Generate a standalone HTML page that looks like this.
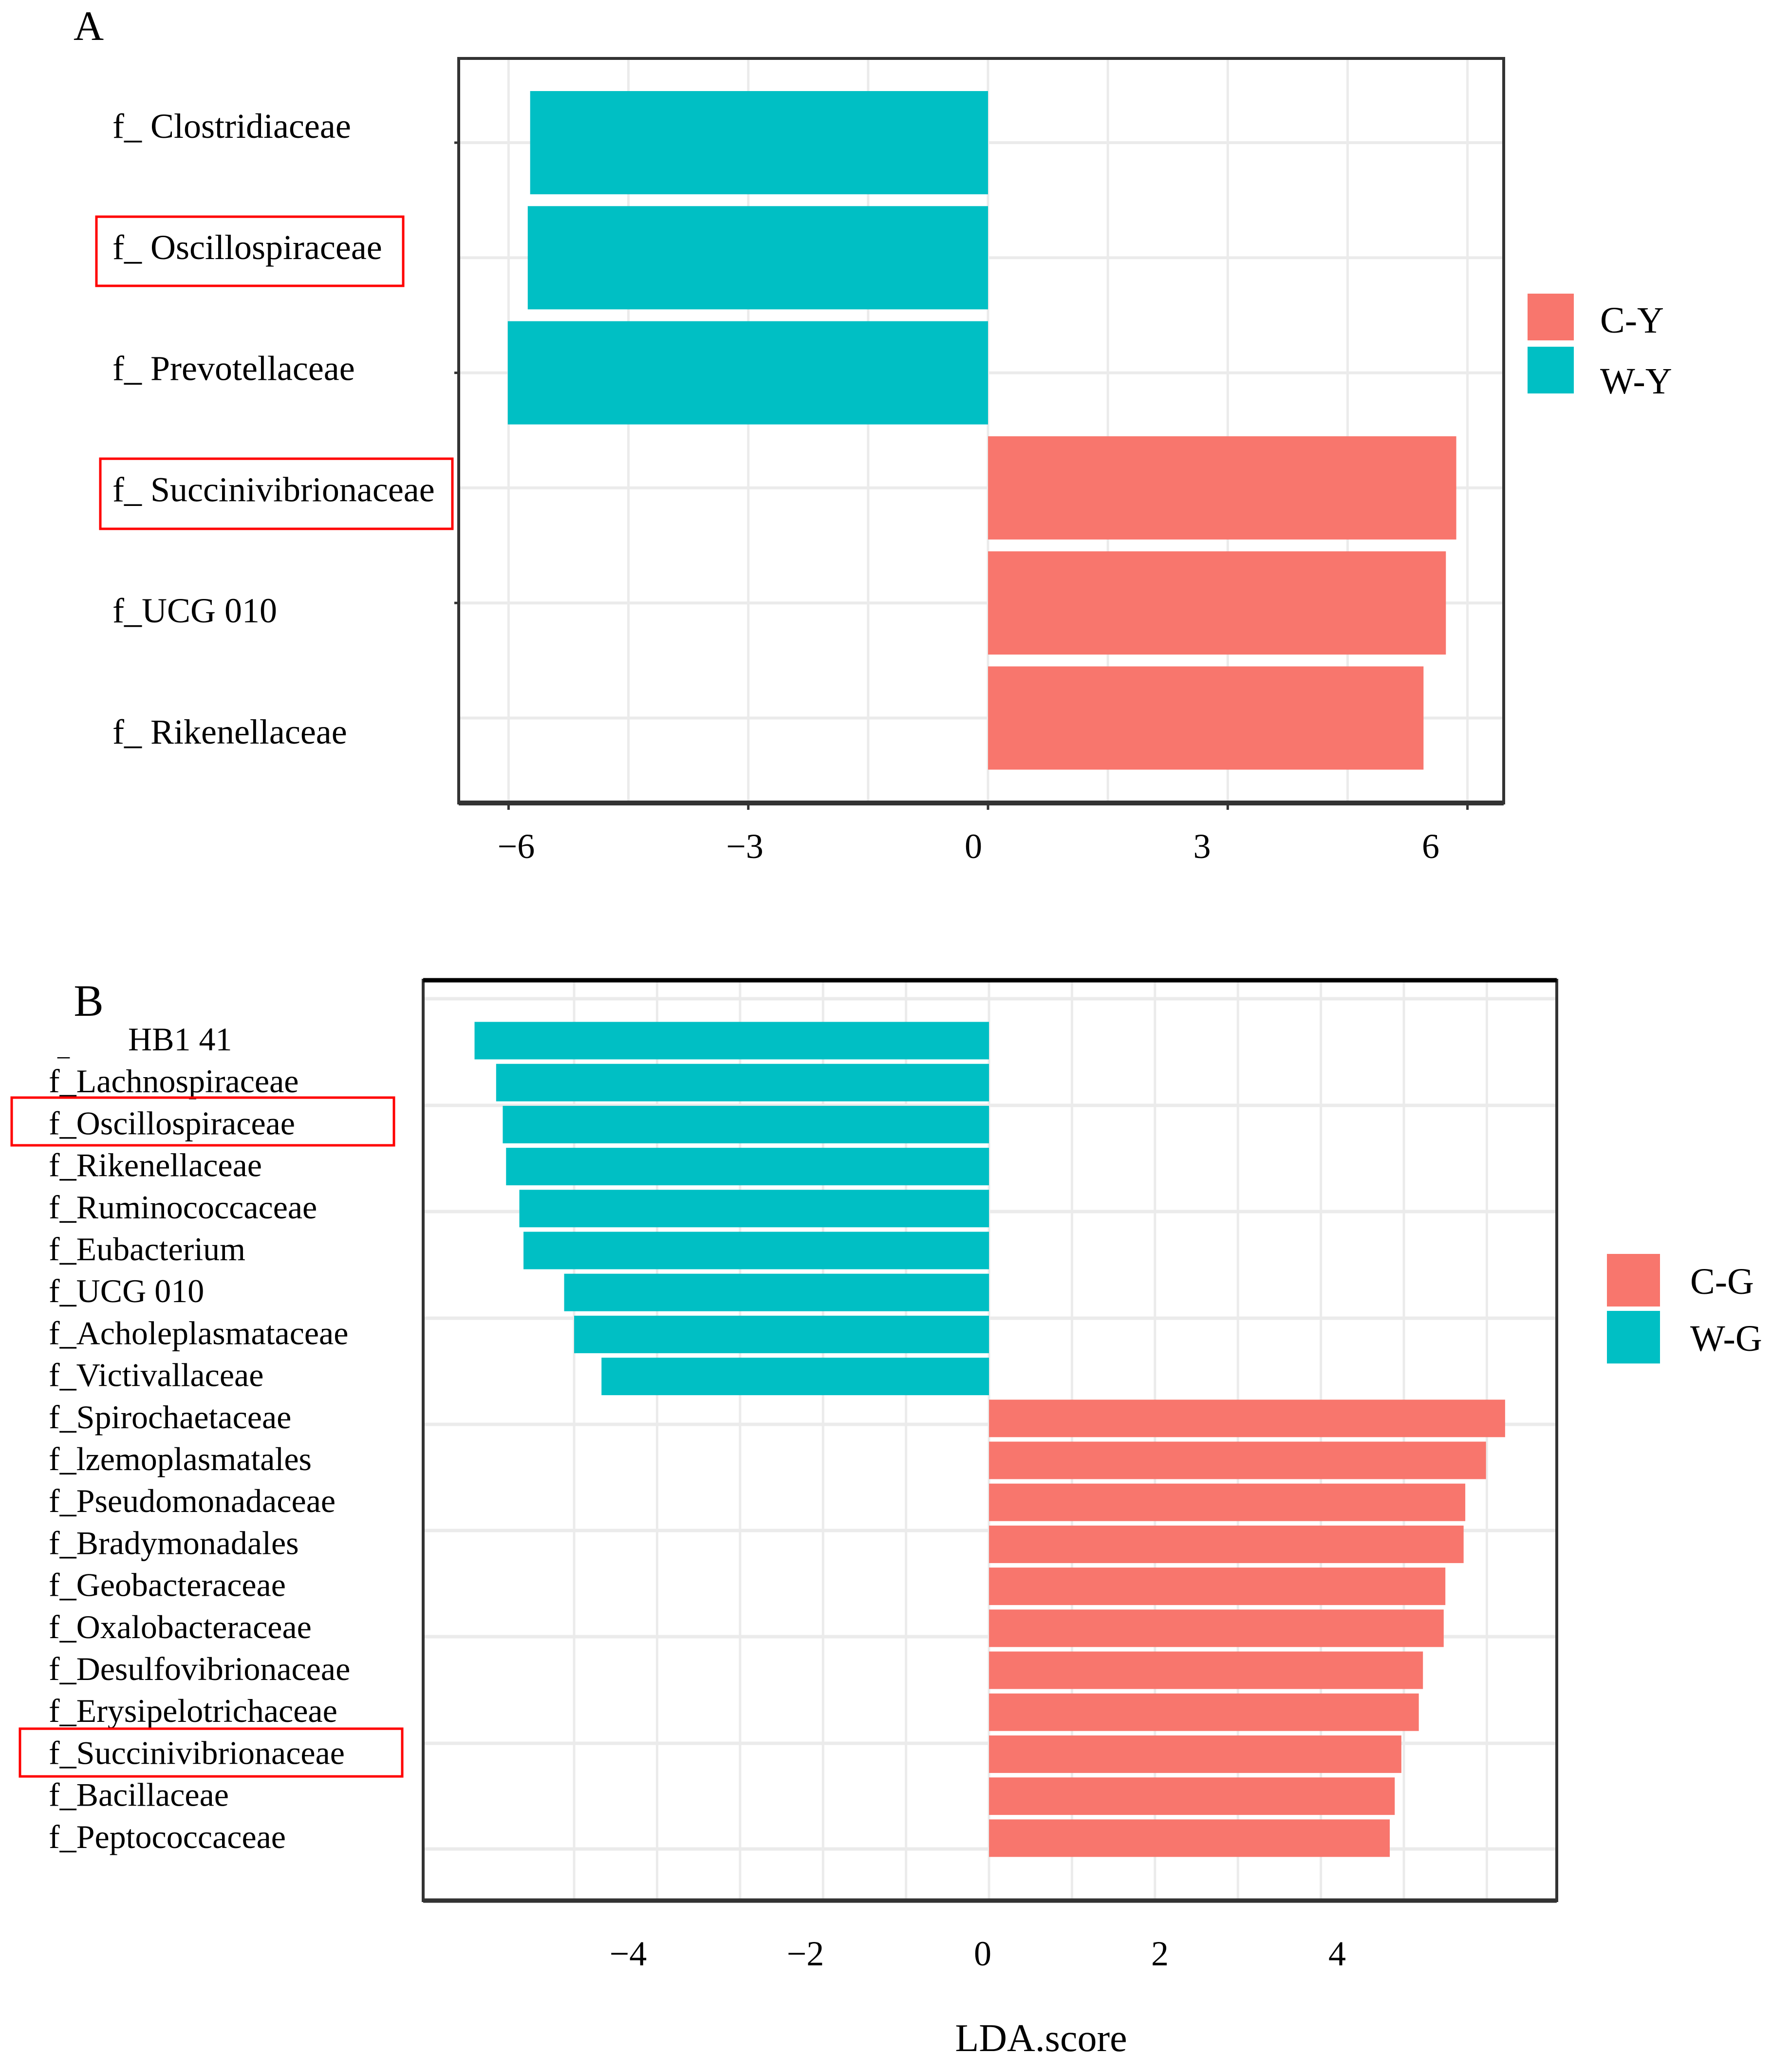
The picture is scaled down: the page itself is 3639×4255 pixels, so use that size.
<!DOCTYPE html>
<html><head><meta charset="utf-8"><style>
html,body{margin:0;padding:0;background:#fff;}
svg{display:block;font-family:"Liberation Serif",serif;}
</style></head><body>
<svg id="chart" width="3639" height="4255" viewBox="0 0 3639 4255" xmlns="http://www.w3.org/2000/svg">
<g id="pa"></g>
<g id="pb"></g>
</svg>
<script>
// Panel A data
const catsA = ["f_ Clostridiaceae","f_ Oscillospiraceae","f_ Prevotellaceae","f_ Succinivibrionaceae","f_UCG 010","f_ Rikenellaceae"];
const valsA = [-5.73,-5.76,-6.01,5.86,5.73,5.45];
const ticksA = [-6,-3,0,3,6];
const gridA = [-6,-4.5,-3,-1.5,0,1.5,3,4.5,6];
const legendA = ["C-Y","W-Y"];
const highlightA = ["f_ Oscillospiraceae","f_ Succinivibrionaceae"];
// Panel B data
const catsB = ["HB1 41","f_Lachnospiraceae","f_Oscillospiraceae","f_Rikenellaceae","f_Ruminococcaceae","f_Eubacterium","f_UCG 010","f_Acholeplasmataceae","f_Victivallaceae","f_Spirochaetaceae","f_lzemoplasmatales","f_Pseudomonadaceae","f_Bradymonadales","f_Geobacteraceae","f_Oxalobacteraceae","f_Desulfovibrionaceae","f_Erysipelotrichaceae","f_Succinivibrionaceae","f_Bacillaceae","f_Peptococcaceae"];
const valsB = [-6.20,-5.94,-5.86,-5.82,-5.66,-5.61,-5.12,-5.00,-4.67,6.22,5.99,5.74,5.72,5.50,5.48,5.23,5.18,4.97,4.89,4.83];
const ticksB = [-4,-2,0,2,4];
const gridB = [-5,-4,-3,-2,-1,0,1,2,3,4,5,6];
const legendB = ["C-G","W-G"];
const highlightB = ["f_Oscillospiraceae","f_Succinivibrionaceae"];

const NS="http://www.w3.org/2000/svg";
const RED="#F8766D", TEAL="#00BFC4";
function mk(parent,tag,attrs,text){const e=document.createElementNS(NS,tag);for(const k in attrs)e.setAttribute(k,attrs[k]);if(text!==undefined)e.textContent=text;parent.appendChild(e);return e;}

// ---------- Panel A ----------
(function(){
  const g=document.getElementById('pa');
  const x0=2029, unit=164.1; const xA=v=>x0+v*unit;
  const labX=v=>1999+v*156.5;
  const y0=293, step=236.3; const yA=i=>y0+i*step;
  const labY=i=>283+i*248.8;
  const L=942,R=3088,T=120,B=1649;
  let t=mk(g,'text',{x:182,y:82,'font-size':86,'text-anchor':'middle'},'A');
  
  
  gridA.forEach(v=>{const l=mk(g,'line',{x1:xA(v),x2:xA(v),y1:T,y2:B,stroke:'#ebebeb','stroke-width':5});
    
    });
  catsA.forEach((c,i)=>{const l=mk(g,'line',{x1:L,x2:R,y1:yA(i),y2:yA(i),stroke:'#ebebeb','stroke-width':6});
    
    });
  catsA.forEach((c,i)=>{
    const v=valsA[i], h=212;
    const r=mk(g,'rect',{x:Math.min(xA(0),xA(v)),y:yA(i)-h/2,width:Math.abs(xA(v)-xA(0)),height:h,fill:v<0?TEAL:RED});
    
    
    const tx=mk(g,'text',{x:231,y:labY(i),'font-size':72},c);
    
    
  });
  const hb=[[198,445,630,142],[206,942,723,144]];
  highlightA.forEach((c,k)=>{const b=hb[k];const r=mk(g,'rect',{x:b[0],y:b[1],width:b[2],height:b[3],fill:'none',stroke:'#ff0000','stroke-width':5});
    
    });
  const box=mk(g,'rect',{x:L,y:T,width:R-L,height:B-T,fill:'none',stroke:'#333','stroke-width':6});
  
  
  mk(g,'line',{x1:L,x2:R,y1:B,y2:B,stroke:'#333','stroke-width':10});
  ticksA.forEach(v=>{mk(g,'line',{x1:xA(v),x2:xA(v),y1:B,y2:B+14,stroke:'#333','stroke-width':5});
    const tl=mk(g,'text',{x:labX(v),y:1762,'font-size':72,'text-anchor':'middle'},v<0?'\u2212'+Math.abs(v):String(v));
    
    });
  [0,2,4].forEach(i=>mk(g,'line',{x1:933,x2:942,y1:yA(i),y2:yA(i),stroke:'#333','stroke-width':5}));
  legendA.forEach((s,k)=>{
    const ly=603+k*109;
    const r=mk(g,'rect',{x:3137,y:ly,width:95,height:96,fill:k==0?RED:TEAL});
    
    
    const tx=mk(g,'text',{x:3286,y:683+k*125,'font-size':76},s);
    
    
  });
})();

// ---------- Panel B ----------
(function(){
  const g=document.getElementById('pb');
  const x0=2031, unit=170.4; const xB=v=>x0+v*unit;
  const labX=v=>2018+v*182;
  const y0=2137, step=86.2; const yB=i=>y0+i*step;
  const L=869,R=3197,T=2013,B=3903;
  let t=mk(g,'text',{x:182,y:2086,'font-size':92,'text-anchor':'middle'},'B');
  
  
  gridB.forEach(v=>{const l=mk(g,'line',{x1:xB(v),x2:xB(v),y1:T,y2:B,stroke:'#ebebeb','stroke-width':5});
    
    });
  [2051,2270,2488,2707,2925,3143,3361,3580,3797].forEach(y=>{mk(g,'line',{x1:L,x2:R,y1:y,y2:y,stroke:'#ebebeb','stroke-width':7});});
  catsB.forEach((c,i)=>{
    const v=valsB[i], h=77;
    const r=mk(g,'rect',{x:Math.min(xB(0),xB(v)),y:yB(i)-h/2,width:Math.abs(xB(v)-xB(0)),height:h,fill:v<0?TEAL:RED});
    
    
    if(i===0){
      const tx=mk(g,'text',{x:263,y:yB(i)+20,'font-size':68},c);
      
      
      mk(g,'text',{x:118,y:yB(i)+30,'font-size':50},'_');
    } else {
      const tx=mk(g,'text',{x:100,y:yB(i)+20,'font-size':68},c);
      
      
    }
  });
  const hb=[[24,2254,785,98],[41,3550,785,98]];
  highlightB.forEach((c,k)=>{const b=hb[k];const r=mk(g,'rect',{x:b[0],y:b[1],width:b[2],height:b[3],fill:'none',stroke:'#ff0000','stroke-width':5});
    
    });
  const box=mk(g,'rect',{x:L,y:T,width:R-L,height:B-T,fill:'none',stroke:'#333','stroke-width':6});
  
  
  mk(g,'line',{x1:L,x2:R,y1:T,y2:T,stroke:'#000','stroke-width':9});
  mk(g,'line',{x1:L,x2:R,y1:B,y2:B,stroke:'#333','stroke-width':9});
  ticksB.forEach(v=>{
    const tl=mk(g,'text',{x:labX(v),y:4036,'font-size':72,'text-anchor':'middle'},v<0?'\u2212'+Math.abs(v):String(v));
    
    });
  const at=mk(g,'text',{x:2138,y:4212,'font-size':80,'text-anchor':'middle'},'LDA.score');
  
  
  legendB.forEach((s,k)=>{
    const ly=2575+k*117;
    const r=mk(g,'rect',{x:3300,y:ly,width:109,height:108,fill:k==0?RED:TEAL});
    
    
    const tx=mk(g,'text',{x:3471,y:ly+82,'font-size':76},s);
    
    
  });
})();
</script>
</body></html>
